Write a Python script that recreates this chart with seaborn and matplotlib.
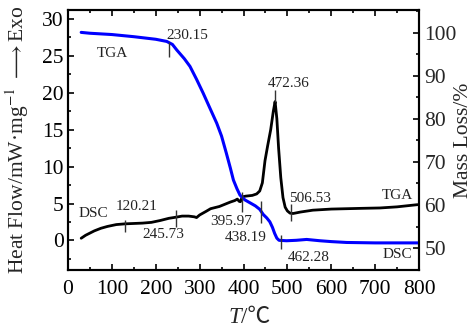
import matplotlib
matplotlib.use("Agg")
import matplotlib.pyplot as plt
import pandas as pd
import seaborn as sns
from matplotlib.ticker import MultipleLocator

# ---------------- data ----------------
dsc_temp = [30, 40, 50, 60, 75, 90, 110, 130, 150, 170, 190, 210, 230, 246, 260, 275,
            288, 293, 300, 315, 325, 345, 370, 380, 386, 390, 393, 397, 405, 420, 430,
            437, 443, 449, 455, 462, 468, 472, 476, 480, 485, 490, 495, 500, 506, 513,
            530, 558, 600, 635, 670, 711, 750, 797]
dsc_heat = [0.3, 0.7, 1.0, 1.3, 1.65, 1.9, 2.15, 2.25, 2.3, 2.35, 2.45, 2.7, 3.0, 3.15, 3.3, 3.3,
            3.2, 3.1, 3.45, 3.95, 4.3, 4.6, 5.2, 5.4, 5.6, 5.3, 5.25, 5.9, 6.0, 6.1, 6.3,
            6.7, 7.8, 10.8, 12.8, 15.0, 17.5, 18.8, 16.5, 12.5, 8.5, 5.8, 4.5, 4.0, 3.7, 3.65,
            3.85, 4.1, 4.25, 4.3, 4.35, 4.4, 4.55, 4.85]

tga_temp = [30, 50, 100, 150, 200, 225, 238, 248, 265, 278, 293, 308, 323, 339, 350,
            361, 370, 377, 385, 392, 403, 415, 427, 437, 445, 453, 460, 466, 471, 476,
            481, 498, 520, 544, 574, 600, 635, 700, 800]
tga_mass = [100.1, 99.9, 99.6, 99.1, 98.5, 98.0, 97.3, 96.0, 94.0, 92.2, 89.2, 86.0, 82.6, 79.0, 76.0,
            72.0, 68.6, 65.8, 63.8, 62.3, 61.2, 60.5, 59.8, 59.0, 57.8, 57.0, 56.1, 54.8, 53.4, 52.3,
            51.8, 51.7, 51.8, 52.0, 51.7, 51.5, 51.3, 51.2, 51.2]

x_ticks = [0, 100, 200, 300, 400, 500, 600, 700, 800]
left_ticks = [0, 5, 10, 15, 20, 25, 30]
right_ticks = [50, 60, 70, 80, 90, 100]

# annotations: text, x, y (left-axis units)
note_text = ["TGA", "230.15", "472.36", "DSC", "120.21", "245.73", "395.97",
             "438.19", "462.28", "506.53", "TGA", "DSC"]
note_x = [100, 273, 503, 57, 157, 218, 372, 404, 549, 551, 750, 751]
note_y = [25.3, 27.7, 21.2, 3.6, 4.6, 0.8, 2.6, 0.4, -2.3, 5.7, 6.1, -1.9]
# small vertical marker lines: x, y from, y to (left-axis units)
mark_x = [230, 472, 131, 246, 396, 441, 485, 508]
mark_y0 = [24.9, 18.8, 1.2, 1.8, 3.9, 2.4, -1.2, 2.6]
mark_y1 = [26.9, 20.4, 2.8, 4.1, 6.6, 5.3, 0.8, 4.9]

# ---------------- style ----------------
sns.set_style("ticks")
plt.rcParams["font.family"] = ["Liberation Serif", "DejaVu Serif"]
plt.rcParams["mathtext.fontset"] = "stix"

dsc = pd.DataFrame({"T": dsc_temp, "HF": dsc_heat})
tga = pd.DataFrame({"T": tga_temp, "ML": tga_mass})

fig = plt.figure(figsize=(4.73, 3.29), dpi=100)
ax = fig.add_axes([0.1438, 0.1793, 0.742, 0.7903])
sns.lineplot(data=dsc, x="T", y="HF", ax=ax, color="black", linewidth=2.0,
             sort=False, estimator=None)
ax2 = ax.twinx()
sns.lineplot(data=tga, x="T", y="ML", ax=ax2, color="#0000ff", linewidth=2.2,
             sort=False, estimator=None)

ax.set_xlim(0, 800)
ax.set_ylim(-4, 31.2)
ax2.set_ylim(44.9, 105.3)

ax.set_xticks(x_ticks)
ax.set_yticks(left_ticks)
ax2.set_yticks(right_ticks)
ax.xaxis.set_minor_locator(MultipleLocator(50))
ax.yaxis.set_minor_locator(MultipleLocator(2.5))
ax2.yaxis.set_minor_locator(MultipleLocator(5))

ax.tick_params(which="both", direction="in", top=True, right=False,
               labelsize=15.5, width=1.2, color="black", labelcolor="black")
ax.tick_params(which="major", length=4, pad=3)
ax.tick_params(axis="x", which="major", pad=7)
ax.tick_params(which="minor", length=2.5)
ax2.tick_params(which="both", direction="in", right=True, left=False,
                labelsize=15.5, width=1.2, color="black")
ax2.tick_params(which="major", length=4, pad=4)
ax2.tick_params(which="minor", length=2.5)

for a in (ax, ax2):
    for s in a.spines.values():
        s.set_linewidth(1.5)
        s.set_color("black")

ax.set_xlabel("")
ax.set_ylabel("Heat Flow/mW·mg$^{-1}$ $\\longrightarrow$Exo", fontsize=15.5)
ax.yaxis.set_label_coords(-0.105, 0.5)
ax2.set_ylabel("Mass Loss/%", fontsize=15.5)
ax2.yaxis.set_label_coords(1.099, 0.5)

fig.text(0.5095, 0.036, "T", fontsize=16.5, fontstyle="italic",
         ha="right", va="center")
fig.text(0.5095, 0.036, "/℃", fontsize=16.5, ha="left", va="center",
         family=["Liberation Serif", "Noto Sans CJK SC"])

# annotations on top of both curves
for t, x, y in zip(note_text, note_x, note_y):
    ax2.text(x, y, t, transform=ax.transData, fontsize=11, color="#222222",
             ha="center", va="center", zorder=5)
ax2.vlines(mark_x, mark_y0, mark_y1, transform=ax.transData, color="#333333",
           linewidth=1.0, zorder=5)

fig.savefig("out.png", dpi=100)
